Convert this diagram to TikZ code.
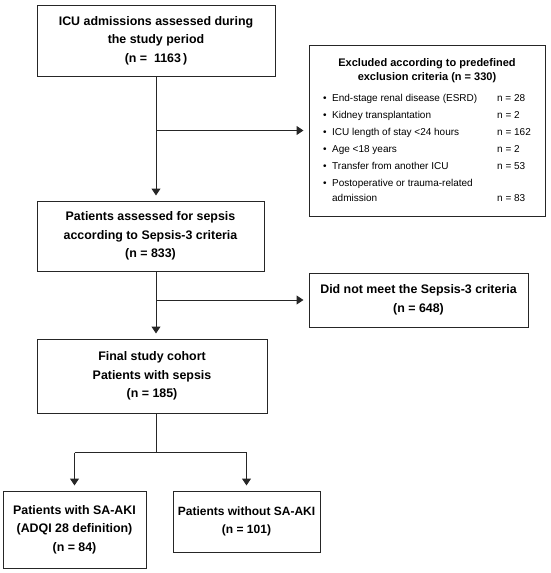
\documentclass[tikz,border=0pt]{standalone}
\usepackage{fontspec}
\setmainfont{Liberation Sans}
\usetikzlibrary{arrows.meta}

\tikzset{
  box/.style={draw=black!85, line width=1pt, align=center, inner sep=2pt,
    font=\bfseries\fontsize{12.4}{18.5}\selectfont},
  arr/.style={draw=black!85, line width=1pt, -{Triangle[width=9pt,length=7pt]}, shorten >=5pt},
  line/.style={draw=black!85, line width=1pt}
}
\newcommand{\excltitle}[1]{\multicolumn{3}{c}{\bfseries\fontsize{11}{15}\selectfont #1}}

\begin{document}
\begin{tikzpicture}[x=1pt,y=-1pt]
      \useasboundingbox (0,0) rectangle (550,573);

      \begin{scope}[every node/.style={box}]
        \node[minimum width=238, minimum height=71] (admit)  at (156,40.5)
          {ICU admissions assessed during\\the study period\\(n =\ \ 1163\,)};
        \node[minimum width=227, minimum height=70] (assess) at (150.5,236)
          {Patients assessed for sepsis\\according to Sepsis-3 criteria\\(n = 833)};
        \node[minimum width=230, minimum height=74] (cohort) at (152,376)
          {Final study cohort\\Patients with sepsis\\(n = 185)};
        \node[minimum width=219, minimum height=54] (nomeet) at (418.5,300)
          {Did not meet the Sepsis-3 criteria\\(n = 648)};
        \node[minimum width=143, minimum height=77] (aki)    at (74.5,529.5)
          {Patients with SA-AKI\\(ADQI 28 definition)\\(n = 84)};
        \node[minimum width=147, minimum height=61, font=\bfseries\fontsize{12}{18.5}\selectfont] (noaki) at (246.5,521.5)
          {Patients without SA-AKI\\(n = 101)};
        % exclusion list
        \node[minimum width=236, minimum height=171, font=\fontsize{10}{17}\selectfont] (excl) at (427,130.5)
          {\begin{tabular}{@{}l@{\hspace{5.5pt}}p{165pt}@{}l@{}}
             \excltitle{Excluded according to predefined}\\[-3pt]
             \excltitle{exclusion criteria (n = 330)}\\[4pt]
             \textbullet & End-stage renal disease (ESRD) & n = 28\\
             \textbullet & Kidney transplantation & n = 2\\
             \textbullet & ICU length of stay <24 hours & n = 162\\
             \textbullet & Age <18 years & n = 2\\
             \textbullet & Transfer from another ICU & n = 53\\
             \textbullet & Postoperative or trauma-related & \\[-2pt]
                         & admission & n = 83
           \end{tabular}};
      \end{scope}

      \draw[arr] (admit.south) -- (admit.south |- assess.north);
      \draw[arr] (admit.south |- excl.west) -- (excl.west);
      \draw[arr] (admit.south |- assess.south) -- (admit.south |- cohort.north);
      \draw[arr] (admit.south |- nomeet.west) -- (nomeet.west);

      \draw[line] (admit.south |- cohort.south) -- ++(0,39) coordinate (split);
      \draw[line] (aki.north |- split) -- (noaki.north |- split);
      \draw[arr] (aki.north |- split) -- (aki.north);
      \draw[arr] (noaki.north |- split) -- (noaki.north);

\end{tikzpicture}
\end{document}
